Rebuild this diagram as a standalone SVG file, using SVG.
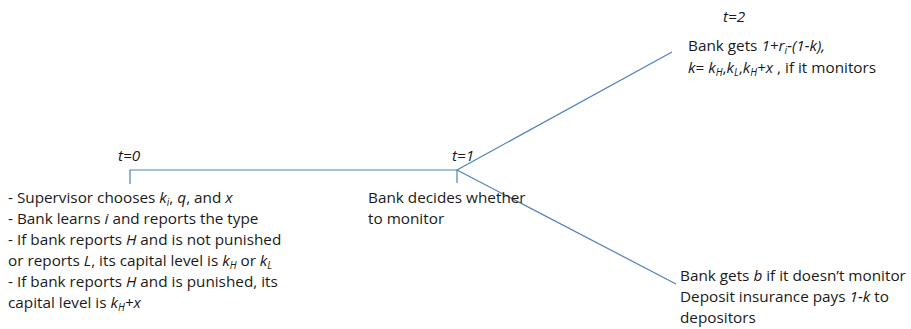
<svg xmlns="http://www.w3.org/2000/svg" width="911" height="329" viewBox="0 0 911 329">
<style>
text{font-family:"Open Sans","Liberation Sans",sans-serif;font-size:15.3px;fill:#1a1a1a}
.i{font-style:italic}
.s{font-size:10px;font-style:italic}
.ln{stroke:#4f81bd;stroke-width:1.2;fill:none}
</style>
<rect width="911" height="329" fill="#fff"/>
<g id="connectors">
<path class="ln" d="M130,184 V170 H457 V183"/>
<path class="ln" d="M457,170 L672,52"/>
<path class="ln" d="M457,170 L676,284"/>
</g>
<g id="t0">
<text x="118" y="161" class="i">t=0</text>
<text x="8" y="203">- Supervisor chooses <tspan class="i">k</tspan><tspan class="s" dy="3">i</tspan><tspan dy="-3">, </tspan><tspan class="i">q</tspan>, and <tspan class="i">x</tspan></text>
<text x="8" y="224">- Bank learns <tspan class="i">i</tspan> and reports the type</text>
<text x="8" y="245">- If bank reports <tspan class="i">H</tspan> and is not punished</text>
<text x="8" y="266">or reports <tspan class="i">L</tspan>, its capital level is <tspan class="i">k</tspan><tspan class="s" dy="3">H</tspan><tspan dy="-3"> or </tspan><tspan class="i">k</tspan><tspan class="s" dy="3">L</tspan></text>
<text x="8" y="287">- If bank reports <tspan class="i">H</tspan> and is punished, its</text>
<text x="8" y="308">capital level is <tspan class="i">k</tspan><tspan class="s" dy="3">H</tspan><tspan class="i" dy="-3">+x</tspan></text>
</g>
<g id="t1">
<text x="452" y="161" class="i">t=1</text>
<text x="368" y="203">Bank decides whether</text>
<text x="368" y="224">to monitor</text>
</g>
<g id="t2">
<text x="723" y="22" class="i">t=2</text>
<text x="688" y="51">Bank gets <tspan class="i">1+r</tspan><tspan class="s" dy="3">i</tspan><tspan class="i" dy="-3">-(1-k),</tspan></text>
<text x="688" y="73"><tspan class="i">k</tspan>= <tspan class="i">k</tspan><tspan class="s" dy="3">H</tspan><tspan dy="-3">,</tspan><tspan class="i">k</tspan><tspan class="s" dy="3">L</tspan><tspan dy="-3">,</tspan><tspan class="i">k</tspan><tspan class="s" dy="3">H</tspan><tspan class="i" dy="-3">+x</tspan> , if it monitors</text>
</g>
<g id="nomonitor">
<text x="680" y="281">Bank gets <tspan class="i">b</tspan> if it doesn’t monitor</text>
<text x="680" y="302">Deposit insurance pays <tspan class="i">1-k</tspan> to</text>
<text x="680" y="323">depositors</text>
</g>
</svg>
